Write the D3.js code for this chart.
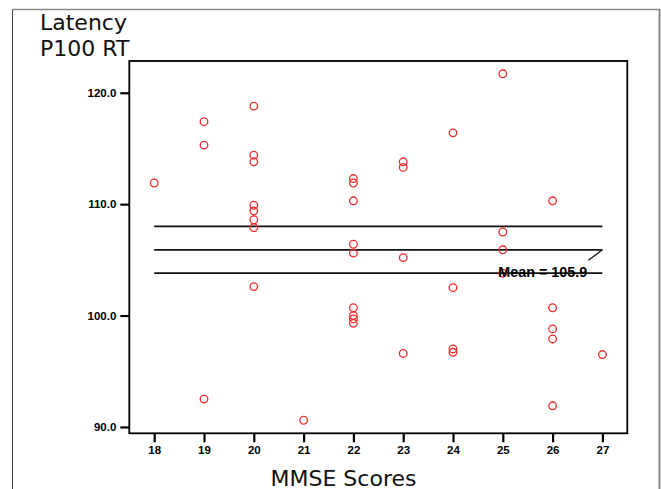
<!DOCTYPE html>
<html><head><meta charset="utf-8">
<script src="https://cdn.jsdelivr.net/npm/d3@7"></script>
<style>body{margin:0;background:#fff}svg{display:block}</style>
</head><body>
<svg id="c" width="661" height="489"></svg>
<script>
const mmse = [18,19,19,19,20,20,20,20,20,20,20,20,21,22,22,22,22,22,22,22,22,22,23,23,23,23,24,24,24,24,25,25,25,25,26,26,26,26,26,27];
const latency = [111.9,117.4,115.3,92.5,118.8,114.4,113.8,109.9,109.4,108.6,107.9,102.6,90.6,112.3,111.9,110.3,106.4,105.6,100.7,100.0,99.7,99.3,113.8,113.3,105.2,96.6,116.4,102.5,97.0,96.7,121.7,107.5,105.9,103.8,110.3,100.7,98.8,97.9,91.9,96.5];
const xTicks = [18,19,20,21,22,23,24,25,26,27];
const yTicks = [90,100,110,120];
const meanValue = 105.9;
const ciLower = 103.8, ciUpper = 108.0;
const meanLabel = "Mean = 105.9";
const yTitle = ["Latency","P100 RT"];
const xTitle = "MMSE Scores";

const svg = d3.select("#c");
const L = 129.3, R = 627.3, T = 61, B = 433.3;
const x = d3.scaleLinear().domain([17.5, 27.5]).range([L, R]);
const y = d3.scaleLinear().domain([89.43, 122.85]).range([B, T]);

// outer frame
svg.append("line").attr("x1",12.5).attr("x2",12.5).attr("y1",9).attr("y2",489).attr("stroke","#444").attr("stroke-width",1);
svg.append("line").attr("x1",12).attr("x2",660).attr("y1",9.5).attr("y2",9.5).attr("stroke","#888").attr("stroke-width",1.5);
svg.append("line").attr("x1",659.5).attr("x2",659.5).attr("y1",9).attr("y2",489).attr("stroke","#888").attr("stroke-width",2);

// titles
svg.selectAll("text.yt").data(yTitle).join("text").attr("class","yt")
  .attr("x",40).attr("y",(d,i)=>30+i*26)
  .attr("font-family","DejaVu Sans, Verdana, sans-serif").attr("font-size",22).attr("fill","#111")
  .text(d=>d);
svg.append("text").attr("x",270.5).attr("y",485.5)
  .attr("font-family","DejaVu Sans, Verdana, sans-serif").attr("font-size",21).attr("fill","#111")
  .attr("textLength",146).attr("lengthAdjust","spacingAndGlyphs")
  .text(xTitle);

// axes
const yAxis = svg.append("g").attr("transform",`translate(${L},0)`)
  .call(d3.axisLeft(y).tickValues(yTicks).tickFormat(d3.format(".1f")).tickSize(9).tickPadding(4));
const xAxis = svg.append("g").attr("transform",`translate(0,${B})`)
  .call(d3.axisBottom(x).tickValues(xTicks).tickFormat(d3.format("d")).tickSize(9).tickPadding(4));
[yAxis,xAxis].forEach(g=>{
  g.select(".domain").remove();
  g.selectAll(".tick line").attr("stroke","#000").attr("stroke-width",2.2);
  g.selectAll(".tick text").attr("font-family","Liberation Sans, Arial, sans-serif")
    .attr("font-weight","bold").attr("font-size",11.5).attr("fill","#000");
});

// plot frame
svg.append("rect").attr("x",L).attr("y",T).attr("width",R-L).attr("height",B-T)
  .attr("fill","none").attr("stroke","#000").attr("stroke-width",1.8);

// mean and CI lines
svg.selectAll("line.ref").data([ciUpper, meanValue, ciLower]).join("line").attr("class","ref")
  .attr("x1",x(18)).attr("x2",x(27)).attr("y1",d=>y(d)).attr("y2",d=>y(d))
  .attr("stroke","#111").attr("stroke-width",1.8);

// points
svg.selectAll("circle").data(mmse).join("circle")
  .attr("cx",d=>x(d)).attr("cy",(d,i)=>y(latency[i])).attr("r",3.8)
  .attr("fill","none").attr("stroke","#f02a2a").attr("stroke-width",1.3);

// mean label with leader
svg.append("line").attr("x1",x(27)).attr("y1",y(meanValue)).attr("x2",x(27)-14).attr("y2",y(meanValue)+10.5)
  .attr("stroke","#111").attr("stroke-width",1.3);
svg.append("text").attr("x",498.3).attr("y",277)
  .attr("font-family","Liberation Sans, Arial, sans-serif").attr("font-weight","bold").attr("font-size",14)
  .attr("textLength",89).attr("lengthAdjust","spacingAndGlyphs").attr("fill","#000")
  .text(meanLabel);
</script>
</body></html>
